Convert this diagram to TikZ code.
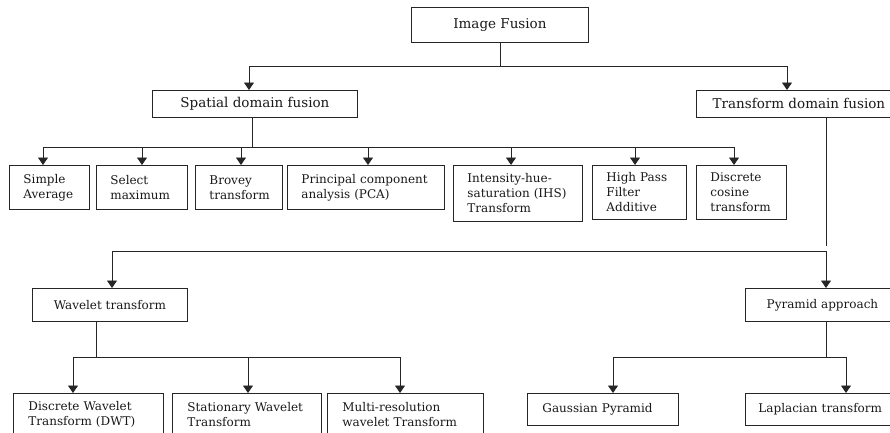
\documentclass[tikz,border=0pt]{standalone}
\usepackage{fontspec}
\setmainfont{DejaVu Serif}
\usetikzlibrary{arrows.meta}
\tikzset{
  box/.style={draw=black!85, line width=0.9pt, inner ysep=0pt, anchor=north west,
    font=\fontsize{12}{15}\selectfont, text=black!90},
  cbox/.style 2 args={box, inner xsep=0pt, minimum width=#1, minimum height=#2, align=center},
  hbox/.style 2 args={cbox={#1}{#2}, font=\fontsize{13.5}{16}\selectfont},
  lbox/.style n args={3}{box, inner xsep=#3, text width=#1-2*#3, minimum height=#2, align=left},
  ln/.style={draw=black!85, line width=0.9pt},
  arr/.style={ln, -{Triangle[width=10pt,length=7.5pt]}},
}
\begin{document}
\begin{tikzpicture}[x=1pt,y=-1pt]
\useasboundingbox (0,0) rectangle (890,432);
\clip (0,0) rectangle (890,432);
% level 0 and 1
\node[hbox={177pt}{35pt}] (IF) at (411,7) {Image Fusion};
\node[hbox={205pt}{27pt}] (SP) at (152,90) {Spatial domain fusion};
\node[hbox={205pt}{27pt}] (TD) at (696,90) {Transform domain fusion};
% spatial methods
\node[lbox={80pt}{44pt}{14pt}] (SA) at (9,165) {Simple\\Average};
\node[lbox={91pt}{44pt}{14pt}] (SM) at (96,165) {Select\\maximum};
\node[lbox={87pt}{44pt}{14pt}] (BT) at (195,165) {Brovey\\transform};
\node[lbox={157pt}{44pt}{14pt}] (PCA) at (287,165) {Principal component\\analysis (PCA)};
\node[lbox={129pt}{56pt}{14pt}] (IHS) at (453,165) {Intensity-hue-\\saturation (IHS)\\Transform};
\node[lbox={94pt}{54pt}{14pt}] (HPF) at (592,165) {High Pass\\Filter\\Additive};
\node[lbox={90pt}{54pt}{14pt}] (DCT) at (696,165) {Discrete\\cosine\\transform};
% transform methods
\node[cbox={155pt}{33pt}] (WT) at (32,288) {Wavelet transform};
\node[cbox={154pt}{33pt}] (PA) at (745,288) {Pyramid approach};
\node[lbox={150pt}{42pt}{15pt}] (DWT) at (13,393) {Discrete Wavelet\\Transform (DWT)};
\node[lbox={149pt}{42pt}{15pt}] (SWT) at (172,393) {Stationary Wavelet\\Transform};
\node[lbox={156pt}{42pt}{15pt}] (MRW) at (327,393) {Multi-resolution\\wavelet Transform};
\node[lbox={151pt}{32pt}{15pt}] (GP) at (527,393) {Gaussian Pyramid};
\node[lbox={160pt}{32pt}{13pt}] (LT) at (745,393) {Laplacian transform};
% connectors level 0
\coordinate (b0l) at (249,66);
\coordinate (b0r) at (787,66);
\draw[ln] (IF.south) -- (IF.south |- b0l);
\draw[ln] (b0l) -- (b0r);
\draw[arr] (b0l) -- (b0l |- SP.north);
\draw[arr] (b0r) -- (b0r |- TD.north);
% spatial bus
\coordinate (s1) at (252,147);
\coordinate (b1l) at (43,147);
\coordinate (b1r) at (734,147);
\draw[ln] (s1 |- SP.south) -- (s1);
\draw[ln] (b1l) -- (b1r);
\foreach \x/\n in {43/SA,142/SM,241/BT,368/PCA,511/IHS,635/HPF,734/DCT}{
  \coordinate (t) at (\x,147);
  \draw[arr] (t) -- (t |- \n.north);
}
% transform bus
\coordinate (ts) at (826,246);
\coordinate (b2l) at (112,251);
\coordinate (b2r) at (826,251);
\draw[ln] (ts |- TD.south) -- (ts);
\draw[ln] (b2l) -- (b2r);
\draw[arr] (b2l) -- (b2l |- WT.north);
\draw[arr] (b2r) -- (b2r |- PA.north);
% wavelet bus
\coordinate (w1) at (96,357);
\draw[ln] (w1 |- WT.south) -- (w1);
\draw[ln] (73,357) -- (400,357);
\foreach \x/\n in {73/DWT,248/SWT,400/MRW}{
  \coordinate (t) at (\x,357);
  \draw[arr] (t) -- (t |- \n.north);
}
% pyramid bus
\coordinate (p1) at (826,357);
\draw[ln] (p1 |- PA.south) -- (p1);
\draw[ln] (613,357) -- (846,357);
\foreach \x/\n in {613/GP,846/LT}{
  \coordinate (t) at (\x,357);
  \draw[arr] (t) -- (t |- \n.north);
}
\end{tikzpicture}
\end{document}
